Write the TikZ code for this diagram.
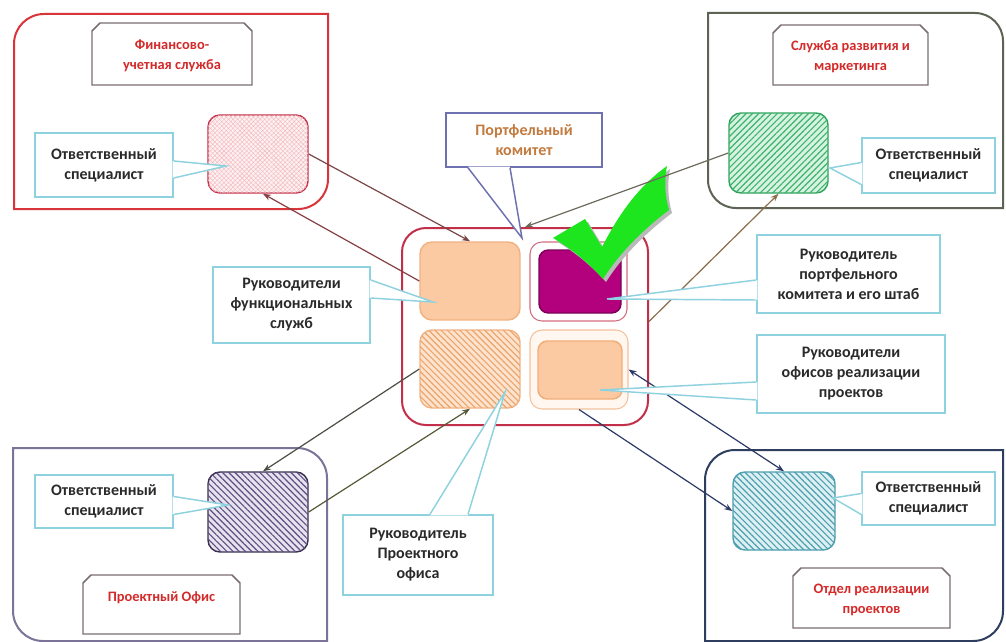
\documentclass[tikz,border=0pt]{standalone}
\usepackage{fontspec}
\setmainfont{Carlito}
\usetikzlibrary{patterns.meta,arrows.meta,calc}

\definecolor{fredA}{HTML}{D9343A}
\definecolor{fgrayB}{HTML}{5E6455}
\definecolor{fpurpC}{HTML}{7C7398}
\definecolor{fnavyD}{HTML}{2F3E5E}
\definecolor{callblue}{HTML}{8FD2DF}
\definecolor{titlered}{HTML}{D42A2A}
\definecolor{titleframe}{HTML}{7A6E73}
\definecolor{hubred}{HTML}{C22F48}
\definecolor{peach}{HTML}{FBC9A2}
\definecolor{peachline}{HTML}{F1B384}
\definecolor{magentafill}{HTML}{B3007D}
\definecolor{checkgreen}{HTML}{1EE61E}
\definecolor{pkframe}{HTML}{6E71B0}
\definecolor{pktext}{HTML}{C27A3E}
\definecolor{linkA}{HTML}{7A4648}
\definecolor{linkB}{HTML}{6D6A5C}
\definecolor{linkC}{HTML}{4E4E46}
\definecolor{linkD}{HTML}{2B3A66}
\definecolor{calltext}{HTML}{2A2A2A}
\definecolor{pinkfill}{HTML}{FDF0F1}
\definecolor{pinkhatch}{HTML}{F2B8BE}
\definecolor{greenline}{HTML}{2FA35E}
\definecolor{greenfill}{HTML}{D6F2E0}
\definecolor{greenhatch}{HTML}{3DB36C}
\definecolor{purpline}{HTML}{3A3150}
\definecolor{purpfill}{HTML}{E6E2EE}
\definecolor{purphatch}{HTML}{5C4F82}
\definecolor{tealline}{HTML}{4E9FAF}
\definecolor{tealfill}{HTML}{DDF0F3}
\definecolor{tealhatch}{HTML}{4E9FAF}
\definecolor{orangehatch}{HTML}{EBA46A}
\definecolor{orangefill}{HTML}{FDE3CE}

\tikzset{
  frameline/.style={line width=1.5pt},
  px/.style 2 args={minimum width=#1*0.75pt, minimum height=#2*0.75pt},
  callout/.style={draw=callblue, line width=1.1pt, fill=white, text=calltext,
    font=\fontsize{12}{15}\selectfont\bfseries, align=center, inner sep=0pt},
  wedge/.style={draw=callblue, line width=1.1pt},
  titlebox/.style={draw=titleframe, line width=1.1pt, fill=white},
  titletext/.style={text=titlered, font=\fontsize{10.8}{15}\selectfont\bfseries, align=center},
  unit/.style={rounded corners=9pt, line width=1.1pt},
  hatch/.style={postaction={pattern={Lines[angle=#1,distance=3.3pt,line width=0.85pt]}}},
  link/.style={line width=0.9pt, -{Stealth[length=6pt,width=4.5pt]}},
  linkboth/.style={line width=0.9pt, {Stealth[length=6pt,width=4.5pt]}-{Stealth[length=6pt,width=4.5pt]}},
}

\begin{document}
\begin{tikzpicture}[x=0.75pt,y=-0.75pt]
\useasboundingbox (0,0) rectangle (1006,642);
\fill[white] (0,0) rectangle (1006,642);

% ---------- department frames ----------
\draw[frameline, draw=fredA] (14,44) .. controls (14,27.4) and (27.4,14) .. (44,14)
  -- (328,14) -- (328,179) .. controls (328,195.6) and (314.6,209) .. (298,209) -- (14,209) -- cycle;
\draw[frameline, draw=fgrayB] (708,13) -- (975,13) .. controls (990.5,13) and (1003,25.5) .. (1003,41)
  -- (1003,208) -- (736,208) .. controls (720.5,208) and (708,195.5) .. (708,180) -- cycle;
\draw[frameline, draw=fpurpC] (13,448) -- (297,448) .. controls (313.6,448) and (327,461.4) .. (327,478)
  -- (327,641) -- (43,641) .. controls (26.4,641) and (13,627.6) .. (13,611) -- cycle;
\draw[frameline, draw=fnavyD] (735,450) -- (1003,450) -- (1003,611) .. controls (1003,627.6) and (989.6,641) .. (973,641)
  -- (705,641) -- (705,480) .. controls (705,463.4) and (718.4,450) .. (735,450) -- cycle;

% ---------- department titles ----------
\path[titlebox] (92,85) -- (92,31) -- (100,23) -- (244,23) -- (252,31) -- (252,85) -- cycle;
\node[titletext] (t1) at (172,56) {Финансово-\\учетная служба};
\path[titlebox] (773,85) -- (773,33) -- (781,25) -- (920,25) -- (928,33) -- (928,85) -- cycle;
\node[titletext] (t2) at (850.5,57) {Служба развития и\\маркетинга};
\path[titlebox] (83,634) -- (83,583) -- (91,575) -- (232,575) -- (240,583) -- (240,634) -- cycle;
\node[titletext] (t3) at (161.5,598) {Проектный Офис};
\path[titlebox] (793,628) -- (793,576) -- (801,568) -- (942,568) -- (950,576) -- (950,628) -- cycle;
\node[titletext] (t4) at (871.5,600) {Отдел реализации\\проектов};

% ---------- responsible specialists ----------
\node[unit, px={100}{78}, draw=hubred, fill=pinkfill,
  postaction={pattern={Hatch[angle=45,distance=2.4pt,line width=0.3pt]}, pattern color=pinkhatch}]
  (fin) at (258,154) {};
\node[unit, px={99}{80}, draw=greenline, fill=greenfill, hatch=45, pattern color=greenhatch] (mkt) at (778.5,153) {};
\node[unit, px={100}{80}, draw=purpline, fill=purpfill, hatch=-45, pattern color=purphatch] (pmo) at (258,512) {};
\node[unit, px={102}{78}, draw=tealline, fill=tealfill, hatch=-45, pattern color=tealhatch] (prj) at (784,511) {};

% ---------- portfolio committee ----------
\node[draw=hubred, line width=1.5pt, rounded corners=18pt, px={246}{197}] (hub) at (525,326.5) {};
\node[unit, px={100}{78}, draw=peachline, fill=peach] (hf) at (470,281) {};
\node[unit, px={97}{79}, draw=hubred!70, line width=0.8pt, fill=white] (ho) at (578.5,281.5) {};
\node[unit, px={82}{63}, draw=magentafill!70!black, fill=magentafill, rounded corners=7pt] (hm) at (580,281.5) {};
\node[unit, px={100}{78}, draw=peachline, fill=orangefill, hatch=-45, pattern color=orangehatch] (hp) at (470,369) {};
\node[unit, px={98}{79}, draw=peachline!80, line width=0.8pt, fill=orange!6] (hr) at (579,369.5) {};
\node[unit, px={84}{58}, draw=peachline!90!orange, fill=peach, rounded corners=7pt] (hri) at (580,370) {};

% ---------- check mark ----------
\fill[gray!55, shift={(3,3)}] (553,238) -- (585,219) -- (602,247)
  .. controls (622,208) and (642,184) .. (667,166)
  .. controls (664,182) and (665,196) .. (669,210)
  .. controls (645,228) and (620,252) .. (603,279)
  .. controls (588,262) and (570,248) .. (553,238) -- cycle;
\fill[checkgreen] (553,238) -- (585,219) -- (602,247)
  .. controls (622,208) and (642,184) .. (667,166)
  .. controls (664,182) and (665,196) .. (669,210)
  .. controls (645,228) and (620,252) .. (603,279)
  .. controls (588,262) and (570,248) .. (553,238) -- cycle;

% ---------- links ----------
\draw[link, draw=linkA] (fin.east) -- (hf.north);
\draw[link, draw=linkA!90!red] (hf.west) -- ($(fin.south)+(5,0)$);
\draw[link, draw=linkB] (mkt.west) -- (hub.north);
\draw[link, draw=linkB!80!orange] ($(hub.east)+(0,-5)$) -- (mkt.south);
\draw[link, draw=linkC] (hp.west) -- ($(pmo.north)+(5,0)$);
\draw[link, draw=linkC!80!olive] (pmo.east) -- (hp.south);
\draw[linkboth, draw=linkD] (hr.east) -- (prj.north);
\draw[link, draw=linkD] (hr.south) -- (prj.west);

% ---------- callouts ----------
\coordinate (p1) at (226,166);
\coordinate (p2) at (830,168);
\coordinate (p3) at (228,505);
\coordinate (p4) at (833,498);
\coordinate (p5) at (522,238);
\coordinate (p6) at (433,302);
\coordinate (p7) at (607,299);
\coordinate (p8) at (600,390);
\coordinate (p9) at (505,392);

\node[callout, px={138}{64}] (c1) at (104,165) {Ответственный\\специалист};
\fill[white] ($(c1.east)+(-1,-4)$) -- (p1) -- ($(c1.east)+(-1,13)$) -- cycle;
\draw[wedge] ($(c1.east)+(0,-4)$) -- (p1) -- ($(c1.east)+(0,13)$);

\node[callout, px={133}{55}] (c2) at (928.5,165.5) {Ответственный\\специалист};
\fill[white] ($(c2.west)+(1,-3)$) -- (p2) -- ($(c2.west)+(1,19)$) -- cycle;
\draw[wedge] ($(c2.west)+(0,-3)$) -- (p2) -- ($(c2.west)+(0,19)$);

\node[callout, px={138}{53}] (c3) at (104,501.5) {Ответственный\\специалист};
\fill[white] ($(c3.east)+(-1,-5)$) -- (p3) -- ($(c3.east)+(-1,13)$) -- cycle;
\draw[wedge] ($(c3.east)+(0,-5)$) -- (p3) -- ($(c3.east)+(0,13)$);

\node[callout, px={133}{53}] (c4) at (928.5,498.5) {Ответственный\\специалист};
\fill[white] ($(c4.west)+(1,-5)$) -- (p4) -- ($(c4.west)+(1,16)$) -- cycle;
\draw[wedge] ($(c4.west)+(0,-5)$) -- (p4) -- ($(c4.west)+(0,16)$);

\node[callout, draw=pkframe, text=pktext, px={156}{54}] (c5) at (524,140) {Портфельный\\комитет};
\fill[white] ($(c5.south)+(-56,-1)$) -- (p5) -- ($(c5.south)+(-14,-1)$) -- cycle;
\draw[wedge, draw=pkframe] ($(c5.south)+(-56,0)$) -- (p5) -- ($(c5.south)+(-14,0)$);

\node[callout, px={157}{76}] (c6) at (291.5,305) {Руководители\\функциональных\\служб};
\fill[white] ($(c6.east)+(-1,-25)$) -- (p6) -- ($(c6.east)+(-1,-7)$) -- cycle;
\draw[wedge] ($(c6.east)+(0,-25)$) -- (p6) -- ($(c6.east)+(0,-7)$);

\node[callout, px={183}{78}] (c7) at (848.5,274) {Руководитель\\портфельного\\комитета и его штаб};
\fill[white] ($(c7.west)+(1,6)$) -- (p7) -- ($(c7.west)+(1,26)$) -- cycle;
\draw[wedge] ($(c7.west)+(0,6)$) -- (p7) -- ($(c7.west)+(0,26)$);

\node[callout, px={188}{78}] (c8) at (851,374) {Руководители\\офисов реализации\\проектов};
\fill[white] ($(c8.west)+(1,8)$) -- (p8) -- ($(c8.west)+(1,26)$) -- cycle;
\draw[wedge] ($(c8.west)+(0,8)$) -- (p8) -- ($(c8.west)+(0,26)$);

\node[callout, px={150}{80}] (c9) at (418,555) {Руководитель\\Проектного\\офиса};
\fill[white] ($(c9.north)+(12,1)$) -- (p9) -- ($(c9.north)+(50,1)$) -- cycle;
\draw[wedge] ($(c9.north)+(12,0)$) -- (p9) -- ($(c9.north)+(50,0)$);
\end{tikzpicture}
\end{document}
